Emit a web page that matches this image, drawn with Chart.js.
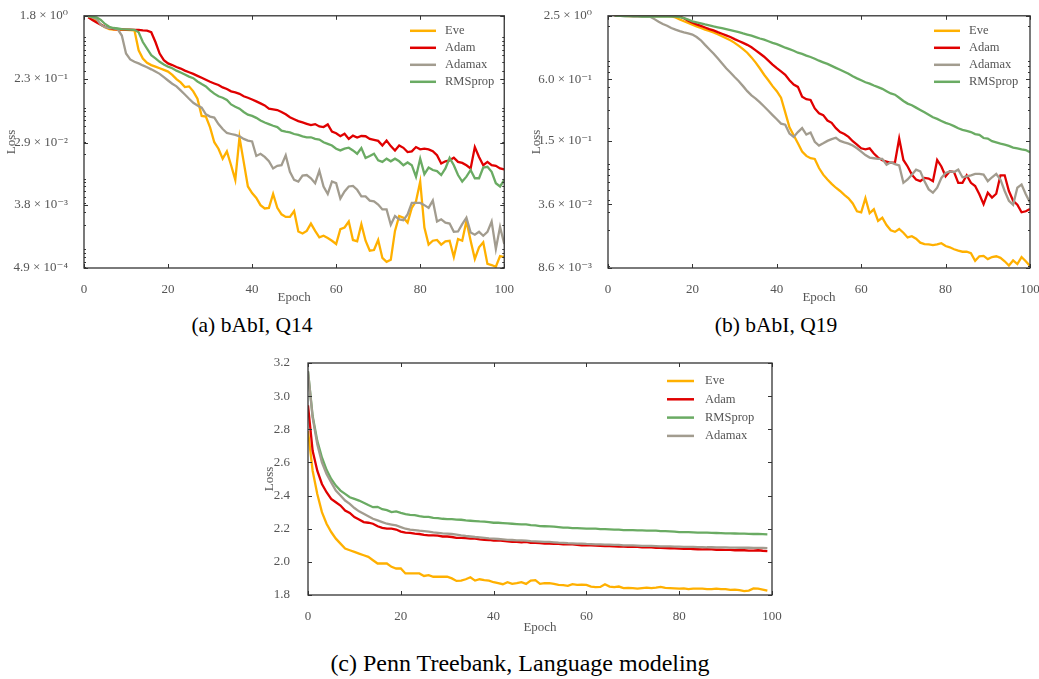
<!DOCTYPE html>
<html lang="en">
<head>
<meta charset="UTF-8">
<title>Eve vs Adam, Adamax, RMSprop</title>
<script src="https://cdn.jsdelivr.net/npm/chart.js"></script>
<style>
  html, body { margin: 0; padding: 0; background: #fff; overflow: hidden; }
  body { width: 1039px; height: 679px; position: relative; }
  .box { position: absolute; }
  #boxA { left: 0; top: 0; width: 520px; height: 310px; }
  #boxB { left: 520px; top: 0; width: 530px; height: 310px; }
  #boxC { left: 230px; top: 340px; width: 560px; height: 300px; }
  .cap { position: absolute; text-align: center; font-family: 'Liberation Serif', 'DejaVu Serif', serif;
         line-height: 26px; color: #000; white-space: nowrap; }
</style>
</head>
<body>
<div class="box" id="boxA"><canvas id="chartA"></canvas></div>
<div class="box" id="boxB"><canvas id="chartB"></canvas></div>
<div class="box" id="boxC"><canvas id="chartC"></canvas></div>
<div class="cap" style="left:152px; top:312px; width:200px; font-size:21.5px;">(a) bAbI, Q14</div>
<div class="cap" style="left:676px; top:312px; width:200px; font-size:21.5px;">(b) bAbI, Q19</div>
<div class="cap" style="left:220px; top:650px; width:600px; font-size:24px;">(c) Penn Treebank, Language modeling</div>

<script>
// epochs for the two bAbI plots and for Penn Treebank
const epochsAB = [1,2,3,4,5,6,7,8,9,10,11,12,13,14,15,16,17,18,19,20,21,22,23,24,25,26,27,28,29,30,
  31,32,33,34,35,36,37,38,39,40,41,42,43,44,45,46,47,48,49,50,51,52,53,54,55,56,57,58,59,60,
  61,62,63,64,65,66,67,68,69,70,71,72,73,74,75,76,77,78,79,80,81,82,83,84,85,86,87,88,89,90,
  91,92,93,94,95,96,97,98,99,100];
const epochsC = [0,1,2,3,4,5,6,7,8,9,10,11,12,13,14,15,16,17,18,19,20,21,22,23,24,25,26,27,28,29,
  30,31,32,33,34,35,36,37,38,39,40,41,42,43,44,45,46,47,48,49,50,51,52,53,54,55,56,57,58,59,
  60,61,62,63,64,65,66,67,68,69,70,71,72,73,74,75,76,77,78,79,80,81,82,83,84,85,86,87,88,89,
  90,91,92,93,94,95,96,97,98,99];

// (a) bAbI Q14 loss
const eveA = [1.78,1.67,1.53,1.35,1.24,1.17,1.15,1.15,1.14,1.14,
  1.13,1.12,0.586,0.449,0.39,0.362,0.344,0.326,0.309,0.293,
  0.263,0.229,0.206,0.177,0.181,0.154,0.121,0.0692,0.0678,0.0476,
  0.0294,0.0238,0.0172,0.0218,0.0139,0.00861,0.0345,0.0155,0.00696,0.00562,
  0.00479,0.00379,0.0034,0.00347,0.00545,0.00347,0.00281,0.00258,0.00258,0.00312,
  0.00161,0.00151,0.00164,0.00208,0.00164,0.00133,0.0014,0.0013,0.00119,0.00107,
  0.00174,0.00183,0.00222,0.00122,0.00117,0.00204,0.00119,0.00086,0.00088,0.00122,
  0.00068,0.0006,0.00064,0.00164,0.00266,0.00252,0.00215,0.00347,0.0043,0.00817,
  0.00183,0.00105,0.00119,0.00122,0.00105,0.00117,0.00119,0.0007,0.00126,0.00119,
  0.00227,0.00119,0.00066,0.00096,0.00113,0.00056,0.00054,0.00051,0.00072,0.0007];
const adamA = [1.71,1.57,1.45,1.35,1.26,1.20,1.17,1.16,1.16,1.15,
  1.15,1.14,1.14,1.12,1.11,1.055,0.766,0.527,0.425,0.382,
  0.362,0.34,0.323,0.302,0.287,0.272,0.255,0.239,0.224,0.21,
  0.199,0.189,0.175,0.166,0.154,0.149,0.142,0.131,0.125,0.118,
  0.111,0.104,0.0974,0.0876,0.0857,0.0839,0.0786,0.073,0.0663,0.0622,
  0.0584,0.0559,0.0535,0.0513,0.053,0.0491,0.0481,0.0524,0.0414,0.0393,
  0.0357,0.0388,0.0327,0.0364,0.0342,0.036,0.0357,0.0327,0.0317,0.0307,
  0.0264,0.031,0.0259,0.0225,0.0264,0.0245,0.0213,0.0218,0.0251,0.0233,
  0.0238,0.0233,0.022,0.0192,0.0147,0.0158,0.0163,0.0178,0.0155,0.015,
  0.0139,0.0125,0.0251,0.0182,0.0139,0.0155,0.0139,0.0136,0.0125,0.0121];
const adamaxA = [1.78,1.71,1.62,1.35,1.24,1.21,1.20,1.17,0.948,0.527,
  0.435,0.403,0.382,0.358,0.337,0.315,0.293,0.272,0.244,0.219,
  0.197,0.181,0.159,0.139,0.121,0.106,0.0974,0.0904,0.073,0.0677,
  0.0656,0.053,0.0451,0.0397,0.0384,0.0372,0.0356,0.0327,0.031,0.0301,
  0.0188,0.0202,0.0182,0.0158,0.0125,0.0136,0.0139,0.0192,0.0112,0.00861,
  0.00817,0.0099,0.0101,0.00909,0.00774,0.0116,0.00696,0.00545,0.00817,0.00774,
  0.00469,0.00593,0.00696,0.0071,0.00625,0.00505,0.00505,0.0044,0.0043,0.00387,
  0.0033,0.0033,0.002,0.00266,0.00239,0.00232,0.00281,0.00408,0.00408,0.00408,
  0.00379,0.00347,0.0044,0.00222,0.00239,0.00215,0.00208,0.00159,0.00161,0.00204,
  0.00252,0.00156,0.00145,0.00159,0.0014,0.00159,0.00222,0.00091,0.00187,0.00107];
const rmspropA = [1.78,1.74,1.71,1.57,1.38,1.26,1.21,1.19,1.17,1.16,
  1.15,1.14,1.055,0.766,0.618,0.499,0.449,0.403,0.37,0.344,
  0.326,0.302,0.284,0.266,0.249,0.236,0.212,0.195,0.181,0.159,
  0.143,0.131,0.125,0.116,0.1005,0.0934,0.0876,0.0786,0.0722,0.0692,
  0.065,0.0596,0.0559,0.053,0.0502,0.0481,0.0428,0.0414,0.0405,0.0384,
  0.0372,0.0356,0.0345,0.0345,0.0327,0.032,0.0294,0.0279,0.0264,0.0238,
  0.0225,0.0238,0.0246,0.0225,0.0202,0.0243,0.0176,0.0188,0.0202,0.0163,
  0.0155,0.0172,0.0158,0.0172,0.0158,0.0139,0.0152,0.0139,0.00958,0.0172,
  0.0104,0.0129,0.0119,0.0115,0.0101,0.0125,0.0176,0.0139,0.0101,0.00817,
  0.00958,0.0119,0.00909,0.00909,0.0129,0.0132,0.0112,0.00774,0.00696,0.00861];

// (b) bAbI Q19 loss
const eveB = [2.6,2.5,2.5,2.5,2.49,2.49,2.49,2.49,2.49,2.49,
  2.48,2.48,2.48,2.48,2.47,2.41,2.3,2.21,2.13,2.05,
  1.97,1.9,1.83,1.78,1.72,1.65,1.58,1.51,1.44,1.36,
  1.27,1.18,1.09,0.981,0.872,0.764,0.664,0.586,0.514,0.459,
  0.396,0.285,0.204,0.17,0.142,0.118,0.107,0.1015,0.1,0.0814,
  0.0702,0.0629,0.0571,0.0523,0.0486,0.0445,0.0413,0.0367,0.0308,0.0301,
  0.0413,0.0295,0.0322,0.0248,0.0266,0.0226,0.0201,0.0194,0.0207,0.019,
  0.0171,0.0176,0.0166,0.0152,0.0147,0.0146,0.0144,0.0146,0.015,0.0141,
  0.0137,0.0131,0.0127,0.0124,0.0124,0.012,0.0101,0.0112,0.0113,0.0105,
  0.011,0.0112,0.0108,0.01,0.0091,0.0102,0.0094,0.011,0.01,0.009];
const adamB = [2.6,2.5,2.5,2.5,2.5,2.5,2.5,2.5,2.5,2.5,
  2.5,2.5,2.5,2.5,2.5,2.48,2.46,2.37,2.24,2.14,
  2.06,1.99,1.92,1.85,1.8,1.73,1.67,1.61,1.55,1.48,
  1.42,1.36,1.3,1.23,1.15,1.07,0.996,0.911,0.834,0.769,
  0.715,0.664,0.586,0.532,0.505,0.405,0.383,0.377,0.311,0.279,
  0.268,0.237,0.225,0.2,0.183,0.175,0.164,0.149,0.138,0.127,
  0.124,0.127,0.113,0.103,0.097,0.0943,0.0917,0.0924,0.158,0.0977,
  0.0844,0.0702,0.0629,0.0606,0.0652,0.0642,0.0606,0.0977,0.0844,0.0677,
  0.0756,0.0745,0.0584,0.0584,0.0692,0.0584,0.0543,0.0451,0.0362,0.0468,
  0.0419,0.0457,0.0692,0.0692,0.0486,0.039,0.0357,0.0301,0.0308,0.0324];
const adamaxB = [2.6,2.5,2.5,2.48,2.48,2.46,2.46,2.46,2.46,2.45,
  2.32,2.19,2.08,2.0,1.9,1.83,1.77,1.72,1.68,1.64,
  1.55,1.44,1.3,1.18,1.07,0.96,0.86,0.769,0.699,0.631,
  0.573,0.514,0.459,0.417,0.388,0.356,0.325,0.295,0.268,0.244,
  0.221,0.216,0.177,0.164,0.183,0.2,0.173,0.181,0.147,0.135,
  0.142,0.15,0.156,0.161,0.15,0.145,0.141,0.135,0.127,0.118,
  0.109,0.103,0.1015,0.1,0.1,0.0876,0.0929,0.0889,0.0863,0.0584,
  0.0629,0.0702,0.0785,0.0756,0.0606,0.0504,0.0468,0.0523,0.0652,0.0729,
  0.0756,0.0745,0.0785,0.0662,0.0677,0.0692,0.0713,0.0713,0.0702,0.0606,
  0.0662,0.0713,0.0629,0.0486,0.039,0.0357,0.0523,0.0563,0.0451,0.0376];
const rmspropB = [2.6,2.5,2.5,2.48,2.48,2.48,2.48,2.46,2.46,2.46,
  2.46,2.46,2.46,2.45,2.45,2.45,2.43,2.37,2.29,2.21,
  2.16,2.11,2.06,2.02,1.97,1.93,1.89,1.85,1.81,1.77,
  1.73,1.68,1.64,1.6,1.55,1.5,1.46,1.41,1.36,1.32,
  1.27,1.22,1.18,1.14,1.09,1.06,1.02,0.99,0.953,0.911,
  0.878,0.847,0.81,0.775,0.742,0.71,0.679,0.641,0.612,0.586,
  0.561,0.544,0.521,0.502,0.484,0.459,0.436,0.424,0.396,0.368,
  0.347,0.334,0.317,0.301,0.285,0.27,0.255,0.246,0.235,0.225,
  0.218,0.209,0.199,0.192,0.188,0.183,0.175,0.172,0.16,0.158,
  0.149,0.145,0.141,0.138,0.134,0.129,0.127,0.124,0.122,0.116];

// (c) Penn Treebank loss
const eveC = [2.79,2.55,2.41,2.30,2.23,2.18,2.14,2.11,2.08,2.07,
  2.06,2.05,2.04,2.03,2.01,1.99,1.99,1.99,1.97,1.96,
  1.96,1.93,1.93,1.93,1.93,1.915,1.92,1.91,1.91,1.91,
  1.91,1.90,1.885,1.887,1.895,1.907,1.887,1.895,1.89,1.887,
  1.877,1.871,1.865,1.877,1.867,1.871,1.877,1.867,1.887,1.89,
  1.867,1.871,1.871,1.867,1.861,1.859,1.855,1.865,1.861,1.863,
  1.861,1.851,1.847,1.849,1.865,1.851,1.847,1.851,1.842,1.843,
  1.842,1.838,1.842,1.845,1.842,1.845,1.849,1.843,1.842,1.84,
  1.838,1.84,1.835,1.838,1.838,1.838,1.835,1.835,1.838,1.835,
  1.835,1.831,1.833,1.829,1.823,1.827,1.84,1.838,1.833,1.827];
const adamC = [2.945,2.67,2.55,2.47,2.42,2.38,2.36,2.34,2.31,2.295,
  2.27,2.255,2.24,2.236,2.23,2.215,2.205,2.2,2.2,2.195,
  2.183,2.177,2.175,2.17,2.168,2.163,2.16,2.16,2.158,2.153,
  2.153,2.15,2.145,2.145,2.143,2.14,2.14,2.136,2.133,2.132,
  2.128,2.13,2.126,2.123,2.12,2.12,2.118,2.12,2.115,2.115,
  2.113,2.11,2.11,2.108,2.108,2.106,2.105,2.105,2.103,2.1,
  2.1,2.1,2.098,2.096,2.095,2.095,2.093,2.092,2.092,2.09,
  2.09,2.09,2.088,2.087,2.087,2.085,2.085,2.083,2.082,2.082,
  2.08,2.078,2.08,2.077,2.076,2.075,2.076,2.075,2.073,2.073,
  2.072,2.072,2.07,2.07,2.07,2.068,2.068,2.07,2.067,2.065];
const rmspropC = [3.15,2.88,2.73,2.63,2.555,2.5,2.46,2.43,2.41,2.39,
  2.38,2.37,2.357,2.343,2.33,2.332,2.318,2.312,2.3,2.305,
  2.296,2.288,2.284,2.282,2.276,2.272,2.272,2.266,2.264,2.26,
  2.258,2.258,2.255,2.254,2.25,2.248,2.246,2.244,2.243,2.24,
  2.236,2.236,2.234,2.232,2.23,2.228,2.226,2.226,2.222,2.22,
  2.216,2.215,2.214,2.212,2.21,2.206,2.206,2.204,2.203,2.202,
  2.2,2.2,2.2,2.198,2.197,2.196,2.195,2.194,2.192,2.192,
  2.192,2.19,2.19,2.189,2.188,2.188,2.186,2.185,2.184,2.182,
  2.18,2.18,2.179,2.178,2.177,2.177,2.176,2.175,2.174,2.173,
  2.172,2.172,2.171,2.17,2.17,2.169,2.168,2.168,2.167,2.166];
const adamaxC = [3.15,2.87,2.71,2.6,2.53,2.48,2.43,2.4,2.37,2.35,
  2.325,2.305,2.29,2.275,2.26,2.25,2.24,2.23,2.225,2.22,
  2.21,2.2,2.195,2.192,2.188,2.185,2.182,2.178,2.175,2.172,
  2.17,2.168,2.165,2.16,2.156,2.153,2.15,2.148,2.145,2.142,
  2.14,2.138,2.136,2.133,2.132,2.13,2.13,2.128,2.125,2.124,
  2.122,2.12,2.12,2.118,2.116,2.115,2.113,2.112,2.11,2.11,
  2.108,2.107,2.106,2.105,2.104,2.104,2.103,2.102,2.1,2.1,
  2.099,2.098,2.097,2.097,2.096,2.095,2.094,2.094,2.093,2.092,
  2.092,2.091,2.09,2.09,2.089,2.089,2.088,2.088,2.087,2.087,
  2.087,2.086,2.086,2.085,2.085,2.085,2.084,2.084,2.084,2.083];

// y tick values and their printed labels
const yTicksA = [4.9e-4, 3.8e-3, 2.9e-2, 2.3e-1, 1.8];
const yLabelsA = ['4.9 × 10⁻⁴', '3.8 × 10⁻³', '2.9 × 10⁻²', '2.3 × 10⁻¹', '1.8 × 10⁰'];
const yTicksB = [8.6e-3, 3.6e-2, 1.5e-1, 6.0e-1, 2.5];
const yLabelsB = ['8.6 × 10⁻³', '3.6 × 10⁻²', '1.5 × 10⁻¹', '6.0 × 10⁻¹', '2.5 × 10⁰'];
const yTicksC = [1.8, 2.0, 2.2, 2.4, 2.6, 2.8, 3.0, 3.2];

const colors = { Eve: '#ffb000', Adam: '#e00000', Adamax: '#a29c8f', RMSprop: '#6aab63' };
const serif = "'Liberation Serif', 'DejaVu Serif', serif";
const textGray = '#555';

// box frame plus inward tick marks like the matplotlib classic style
const frameTicks = {
  id: 'frameTicks',
  afterDatasetsDraw(chart, args, opts) {
    const { ctx, chartArea: a } = chart;
    const x = chart.scales.x, y = chart.scales.y;
    ctx.save();
    ctx.strokeStyle = '#333';
    ctx.lineWidth = 1;
    ctx.beginPath();
    x.ticks.forEach(t => {
      const px = Math.round(x.getPixelForValue(t.value)) + 0.5;
      ctx.moveTo(px, a.bottom); ctx.lineTo(px, a.bottom - 4);
      ctx.moveTo(px, a.top); ctx.lineTo(px, a.top + 4);
    });
    y.ticks.forEach(t => {
      const py = Math.round(y.getPixelForValue(t.value)) + 0.5;
      ctx.moveTo(a.left, py); ctx.lineTo(a.left + 4, py);
      ctx.moveTo(a.right, py); ctx.lineTo(a.right - 4, py);
    });
    if (opts.minor) {
      const lo = Math.floor(Math.log10(y.min)), hi = Math.ceil(Math.log10(y.max));
      for (let n = lo; n <= hi; n++) {
        for (let k = 2; k <= 9; k++) {
          const v = k * Math.pow(10, n);
          if (v <= y.min || v >= y.max) continue;
          const py = Math.round(y.getPixelForValue(v)) + 0.5;
          ctx.moveTo(a.left, py); ctx.lineTo(a.left + 2, py);
          ctx.moveTo(a.right, py); ctx.lineTo(a.right - 2, py);
        }
      }
    }
    ctx.stroke();
    ctx.lineWidth = 1.3;
    ctx.strokeRect(a.left, a.top, a.right - a.left, a.bottom - a.top);
    ctx.restore();
  }
};

// legend drawn inside the plot, upper right
const innerLegend = {
  id: 'innerLegend',
  afterDraw(chart, args, opts) {
    const { ctx, chartArea: a } = chart;
    ctx.save();
    ctx.font = '12.5px ' + serif;
    ctx.textBaseline = 'middle';
    chart.data.datasets.forEach((ds, i) => {
      const yy = a.top + opts.top + i * opts.gap;
      const x0 = a.left + opts.left;
      ctx.strokeStyle = ds.borderColor;
      ctx.lineWidth = 2.5;
      ctx.beginPath();
      ctx.moveTo(x0, yy);
      ctx.lineTo(x0 + opts.len, yy);
      ctx.stroke();
      ctx.fillStyle = textGray;
      ctx.fillText(ds.label, x0 + opts.len + opts.pad, yy);
    });
    ctx.restore();
  }
};

function series(label, data, order) {
  return {
    label: label,
    data: data,
    borderColor: colors[label],
    backgroundColor: colors[label],
    borderWidth: 2.3,
    pointRadius: 0,
    tension: 0,
    fill: false,
    order: order
  };
}

function makeChart(id, cfg) {
  return new Chart(document.getElementById(id), {
    type: 'line',
    data: { labels: cfg.labels, datasets: cfg.datasets },
    plugins: [frameTicks, innerLegend],
    options: {
      responsive: true,
      maintainAspectRatio: false,
      animation: false,
      layout: { padding: cfg.padding },
      plugins: {
        legend: { display: false },
        tooltip: { enabled: false },
        frameTicks: { minor: cfg.minor },
        innerLegend: cfg.legend
      },
      scales: {
        x: {
          type: 'linear',
          min: 0,
          max: 100,
          grid: { display: false },
          border: { display: false },
          ticks: { stepSize: 20, maxRotation: 0, padding: 6, color: textGray, font: { family: serif, size: 13 } },
          title: { display: true, text: 'Epoch', color: textGray, font: { family: serif, size: 13 }, padding: { top: 0, bottom: 5 } },
          afterFit: s => { s.height = cfg.xHeight; }
        },
        y: {
          type: cfg.yType,
          min: cfg.yMin,
          max: cfg.yMax,
          grid: { display: false },
          border: { display: false },
          afterBuildTicks: s => { s.ticks = cfg.yTicks.map(v => ({ value: v })); },
          ticks: { padding: cfg.yPad, color: textGray, font: { family: serif, size: 13 }, autoSkip: false,
                   callback: (v, i) => cfg.yLabels[i] },
          title: { display: true, text: 'Loss', color: textGray, font: { family: serif, size: 13 }, padding: { top: cfg.titlePad, bottom: 0 } },
          afterFit: s => { s.width = cfg.yWidth; }
        }
      }
    }
  });
}

makeChart('chartA', {
  labels: epochsAB,
  datasets: [series('Eve', eveA, 4), series('Adam', adamA, 3), series('Adamax', adamaxA, 2), series('RMSprop', rmspropA, 1)],
  padding: { top: 12, right: 14, left: 0, bottom: 0 },
  xHeight: 42, yWidth: 84, yPad: 8, titlePad: 4,
  yType: 'logarithmic', yMin: 4.9e-4, yMax: 1.8, yTicks: yTicksA, yLabels: yLabelsA, minor: true,
  legend: { left: 326, len: 26, pad: 9, top: 15, gap: 17 }
});

makeChart('chartB', {
  labels: epochsAB,
  datasets: [series('Eve', eveB, 4), series('Adam', adamB, 3), series('Adamax', adamaxB, 2), series('RMSprop', rmspropB, 1)],
  padding: { top: 12, right: 20, left: 0, bottom: 0 },
  xHeight: 42, yWidth: 88, yPad: 8, titlePad: 9,
  yType: 'logarithmic', yMin: 8.6e-3, yMax: 2.5, yTicks: yTicksB, yLabels: yLabelsB, minor: true,
  legend: { left: 326, len: 26, pad: 9, top: 15, gap: 17 }
});

makeChart('chartC', {
  labels: epochsC,
  datasets: [series('Eve', eveC, 4), series('Adam', adamC, 3), series('RMSprop', rmspropC, 2), series('Adamax', adamaxC, 1)],
  padding: { top: 23, right: 18, left: 0, bottom: 0 },
  xHeight: 45, yWidth: 78, yPad: 10, titlePad: 32,
  yType: 'linear', yMin: 1.8, yMax: 3.2, yTicks: yTicksC, yLabels: yTicksC.map(v => v.toFixed(1)), minor: false,
  legend: { left: 359, len: 27, pad: 11, top: 18, gap: 18.3 }
});
</script>
</body>
</html>
